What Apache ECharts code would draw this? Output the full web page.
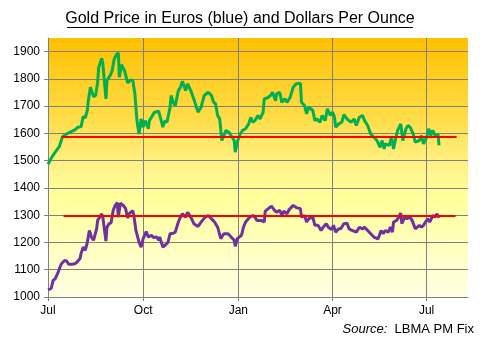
<!DOCTYPE html>
<html><head><meta charset="utf-8">
<script src="https://cdn.jsdelivr.net/npm/echarts@6/dist/echarts.min.js"></script>
<style>html,body{margin:0;padding:0;background:#fff}#c{width:480px;height:338px}</style>
</head><body><div id="c"></div>
<script>
// Days counted from 1 July 2011
const usdDays = [0,4,8,11,12,14,18,21,26,29,32,34,36,38,39,41,44,46,48,49,52,53,56,57,60,62,64,66,68,69,71,74,77,80,82,84,86,88,90,92,94,97,98,103,107,109,111,113,115,118,119,121,123,126,128,130,133,135,138,142,145,148,151,155,158,160,162,164,166,168,170,172,175,178,180,181,183,185,188,191,194,196,198,200,203,205,208,209,212,215,217,220,221,224,226,229,231,234,237,240,244,245,248,250,252,256,258,260,263,265,268,270,273,275,277,278,281,284,286,289,291,293,296,298,301,304,306,309,312,315,318,321,323,325,326,330,332,334,336,338,341,343,346,348,350,353,355,359,361,363,366,368,370,372,375,377,378];
const usdValues = [1487,1515,1537,1552,1556,1588,1598,1604,1613,1623,1625,1662,1657,1684,1720,1769,1735,1739,1788,1842,1876,1855,1727,1794,1812,1830,1873,1888,1896,1806,1852,1830,1785,1796,1794,1745,1647,1598,1653,1623,1647,1617,1647,1678,1681,1653,1623,1647,1641,1696,1739,1714,1702,1757,1769,1791,1757,1782,1757,1714,1678,1696,1739,1751,1739,1715,1708,1666,1653,1574,1592,1611,1604,1586,1574,1531,1568,1592,1611,1617,1635,1659,1641,1647,1666,1653,1678,1727,1730,1739,1751,1720,1745,1751,1714,1727,1714,1732,1769,1782,1784,1714,1702,1672,1696,1684,1647,1653,1641,1666,1647,1690,1666,1678,1659,1623,1635,1641,1669,1653,1647,1641,1653,1629,1659,1666,1647,1629,1598,1586,1574,1549,1574,1543,1562,1556,1586,1543,1580,1611,1635,1574,1617,1629,1623,1598,1568,1574,1592,1562,1586,1617,1592,1611,1586,1598,1556];
const eurDays = [0,3,5,7,10,11,13,16,18,20,23,26,28,31,32,34,36,38,40,42,44,47,48,52,53,56,57,59,61,63,65,67,68,70,73,75,77,79,82,83,85,88,90,92,95,97,100,102,105,107,108,111,113,116,118,121,123,126,128,130,133,135,138,141,145,148,152,155,156,159,161,164,167,170,174,177,180,181,183,187,189,191,195,198,200,202,206,209,210,213,216,219,221,224,226,228,231,233,237,240,244,245,248,250,252,256,258,261,264,266,269,271,274,276,278,281,283,286,289,291,294,298,301,304,306,309,312,315,319,322,324,326,329,331,333,334,337,339,341,342,345,347,350,352,355,359,361,363,365,367,369,372,374,376,378];
const eurValues = [1027,1031,1061,1067,1092,1104,1122,1134,1132,1120,1120,1122,1128,1141,1160,1183,1171,1200,1244,1220,1208,1250,1281,1305,1293,1205,1256,1269,1272,1318,1336,1346,1293,1344,1335,1324,1290,1308,1316,1299,1244,1201,1183,1214,1240,1220,1226,1218,1220,1208,1220,1183,1189,1201,1232,1234,1238,1275,1293,1305,1293,1311,1293,1269,1259,1275,1293,1299,1305,1283,1275,1256,1214,1232,1232,1220,1208,1186,1214,1226,1256,1275,1293,1299,1293,1281,1281,1275,1315,1324,1333,1318,1311,1318,1299,1315,1305,1320,1336,1328,1324,1293,1299,1275,1287,1293,1263,1263,1244,1256,1269,1256,1247,1263,1238,1250,1250,1269,1271,1250,1244,1238,1256,1250,1256,1244,1232,1220,1213,1244,1232,1244,1238,1256,1238,1275,1281,1293,1308,1269,1293,1287,1293,1281,1250,1263,1256,1263,1275,1287,1275,1299,1293,1305,1290];
const usdRefDays = [13, 395];
const usdRefValue = 1587;
const eurRefDays = [15, 394];
const eurRefValue = 1297;
const quarterDays = [0, 92, 184, 275, 366];
const quarterLabels = ['Jul', 'Oct', 'Jan', 'Apr', 'Jul'];
const yTicks = [1000,1100,1200,1300,1400,1500,1600,1700,1800,1900];
const titleText = 'Gold Price in Euros (blue) and Dollars Per Ounce';

const zip = (d, v) => d.map((x, i) => [x, v[i]]);
const chart = echarts.init(document.getElementById('c'), null, {renderer: 'canvas'});
const font = 'Liberation Sans, Arial, sans-serif';
chart.setOption({
  animation: false,
  backgroundColor: '#fff',
  grid: {
    left: 48, right: 12, top: 38, bottom: 41, show: true, borderWidth: 0,
    backgroundColor: {type: 'linear', x: 0, y: 0, x2: 0, y2: 1, colorStops: [
      {offset: 0, color: '#FFC000'}, {offset: 0.3, color: '#FFDC45'},
      {offset: 0.5, color: '#FFF38A'}, {offset: 0.62, color: '#FFFF9C'},
      {offset: 1, color: '#FFFFE4'}]}
  },
  xAxis: {
    type: 'value', min: 0, max: 406,
    axisLine: {show: true, lineStyle: {color: '#808080', width: 1}},
    axisTick: {show: true, length: 4, customValues: quarterDays, lineStyle: {color: '#808080'}},
    axisLabel: {customValues: quarterDays, margin: 8, fontSize: 12, fontFamily: font, color: '#000',
      formatter: v => quarterLabels[quarterDays.indexOf(v)] || ''},
    splitLine: {show: true, lineStyle: {color: '#808080', width: 1}}
  },
  yAxis: {
    type: 'value', min: 1000, max: 1950, interval: 100,
    axisLine: {show: true, lineStyle: {color: '#808080', width: 1}},
    axisTick: {show: true, length: 4, customValues: yTicks, lineStyle: {color: '#808080'}},
    axisLabel: {customValues: yTicks, margin: 8, fontSize: 12, fontFamily: font, color: '#000',
      formatter: v => String(v)},
    splitLine: {show: true, lineStyle: {color: '#808080', width: 1}}
  },
  series: [
    {type: 'line', data: zip(usdDays, usdValues), showSymbol: false, lineStyle: {color: '#00B050', width: 3}, itemStyle: {color: '#00B050'}, z: 2},
    {type: 'line', data: zip(eurDays, eurValues), showSymbol: false, lineStyle: {color: '#7030A0', width: 3}, itemStyle: {color: '#7030A0'}, z: 2},
    {type: 'line', data: usdRefDays.map(d => [d, usdRefValue]), showSymbol: false, lineStyle: {color: '#FF0000', width: 2}, z: 3},
    {type: 'line', data: eurRefDays.map(d => [d, eurRefValue]), showSymbol: false, lineStyle: {color: '#FF0000', width: 2}, z: 3}
  ],
  graphic: [
    {type: 'text', x: 240, y: 19, style: {text: titleText, fontSize: 16, fontFamily: font, fill: '#000', align: 'center', verticalAlign: 'middle'}},
    {type: 'line', shape: {x1: 67, y1: 27.5, x2: 413, y2: 27.5}, style: {stroke: '#000', lineWidth: 1}},
    {type: 'text', x: 474, y: 329, style: {text: '{i|Source:}  LBMA PM Fix', fontSize: 13, fontFamily: font, fill: '#000', align: 'right', verticalAlign: 'middle',
      rich: {i: {fontStyle: 'italic', fontSize: 13, fontFamily: font, fill: '#000'}}}}
  ]
});
</script></body></html>
